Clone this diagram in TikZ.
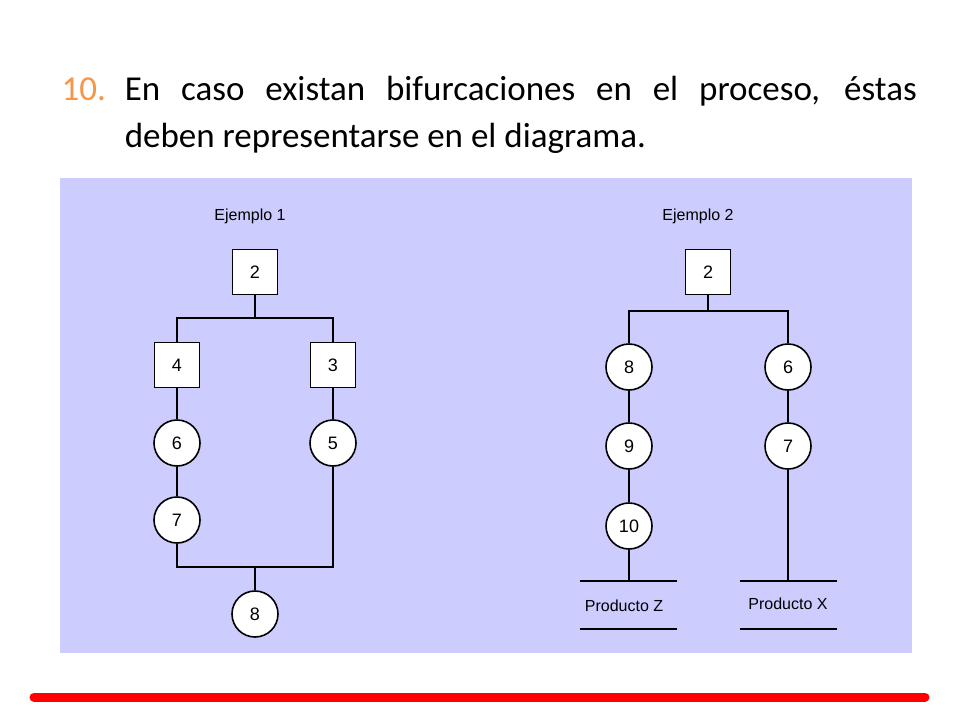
\documentclass[tikz,border=0pt]{standalone}
\usepackage{fontspec}
\setmainfont{Liberation Sans}
\newfontfamily\calfont{Carlito}
\definecolor{panel}{HTML}{CCCCFF}
\definecolor{orng}{HTML}{F79646}
\definecolor{redbar}{HTML}{FF0000}
\begin{document}
\begin{tikzpicture}[x=1pt,y=-1pt,line width=1.6pt,
  bx/.style={draw,fill=white,minimum size=45pt,inner sep=0pt,font=\fontsize{18}{20}\selectfont},
  cr/.style={draw,fill=white,circle,minimum size=46pt,inner sep=0pt,font=\fontsize{18}{20}\selectfont},
  lbl/.style={font=\fontsize{16}{18}\selectfont}]
\useasboundingbox (0,0) rectangle (960,720);
\fill[white] (0,0) rectangle (960,720);
\node[anchor=base east,text=orng,font=\calfont\fontsize{35}{40}\selectfont] (num) at (110,100) {10.};
\node[anchor=base west,inner sep=0pt,font=\calfont\fontsize{35}{40}\selectfont] (t1) at (124,100) {\makebox[792pt][s]{En caso existan bifurcaciones en el proceso, éstas}};
\node[anchor=base west,inner sep=0pt,font=\calfont\fontsize{35}{40}\selectfont] (t2) at (124,147) {deben representarse en el diagrama.};
\fill[panel] (60,178) rectangle (912,653);
\draw[redbar,line width=9pt,line cap=round] (34,697) -- (925,697);
% Example 1
\node[lbl] (e1) at (250,216) {Ejemplo 1};
\node[bx] (a2) at (255,272) {2};
\node[bx] (a4) at (177,365) {4};
\node[bx] (a3) at (333,365) {3};
\node[cr] (a6) at (177,443) {6};
\node[cr] (a7) at (177,520) {7};
\node[cr] (a5) at (333,443) {5};
\node[cr] (a8) at (255,614) {8};
\coordinate (b1) at (255,318);
\coordinate (b2) at (255,567);
\draw (a2) -- (b1);
\draw (a4.north) |- (b1) -| (a3.north);
\draw (a4) -- (a6); \draw (a6) -- (a7); \draw (a3) -- (a5);
\draw (a7.south) |- (b2) -| (a5.south);
\draw (b2) -- (a8);
% Example 2
\node[lbl] (e2) at (698,216) {Ejemplo 2};
\node[bx] (c2) at (708,272) {2};
\node[cr] (c8) at (629,367) {8};
\node[cr] (c9) at (629,446) {9};
\node[cr] (c10) at (629,526) {10};
\node[cr] (c6) at (788,367) {6};
\node[cr] (c7) at (788,446) {7};
\coordinate (d1) at (708,311);
\draw (c2) -- (d1);
\draw (c8.north) |- (d1) -| (c6.north);
\draw (c8) -- (c9); \draw (c9) -- (c10); \draw (c6) -- (c7);
\coordinate (zl) at (580,581); \coordinate (zr) at (677,581);
\coordinate (zl2) at (580,629); \coordinate (zr2) at (677,629);
\coordinate (xl) at (740,581); \coordinate (xr) at (837,581);
\coordinate (xl2) at (740,629); \coordinate (xr2) at (837,629);
\draw (c10) -- (c10 |- zl);
\draw (c7) -- (c7 |- xl);
\draw (zl) -- (zr); \draw (zl2) -- (zr2);
\draw (xl) -- (xr); \draw (xl2) -- (xr2);
\node[lbl] (pz) at (624,606) {Producto Z};
\node[lbl] (px) at (788,604) {Producto X};
\end{tikzpicture}
\end{document}
